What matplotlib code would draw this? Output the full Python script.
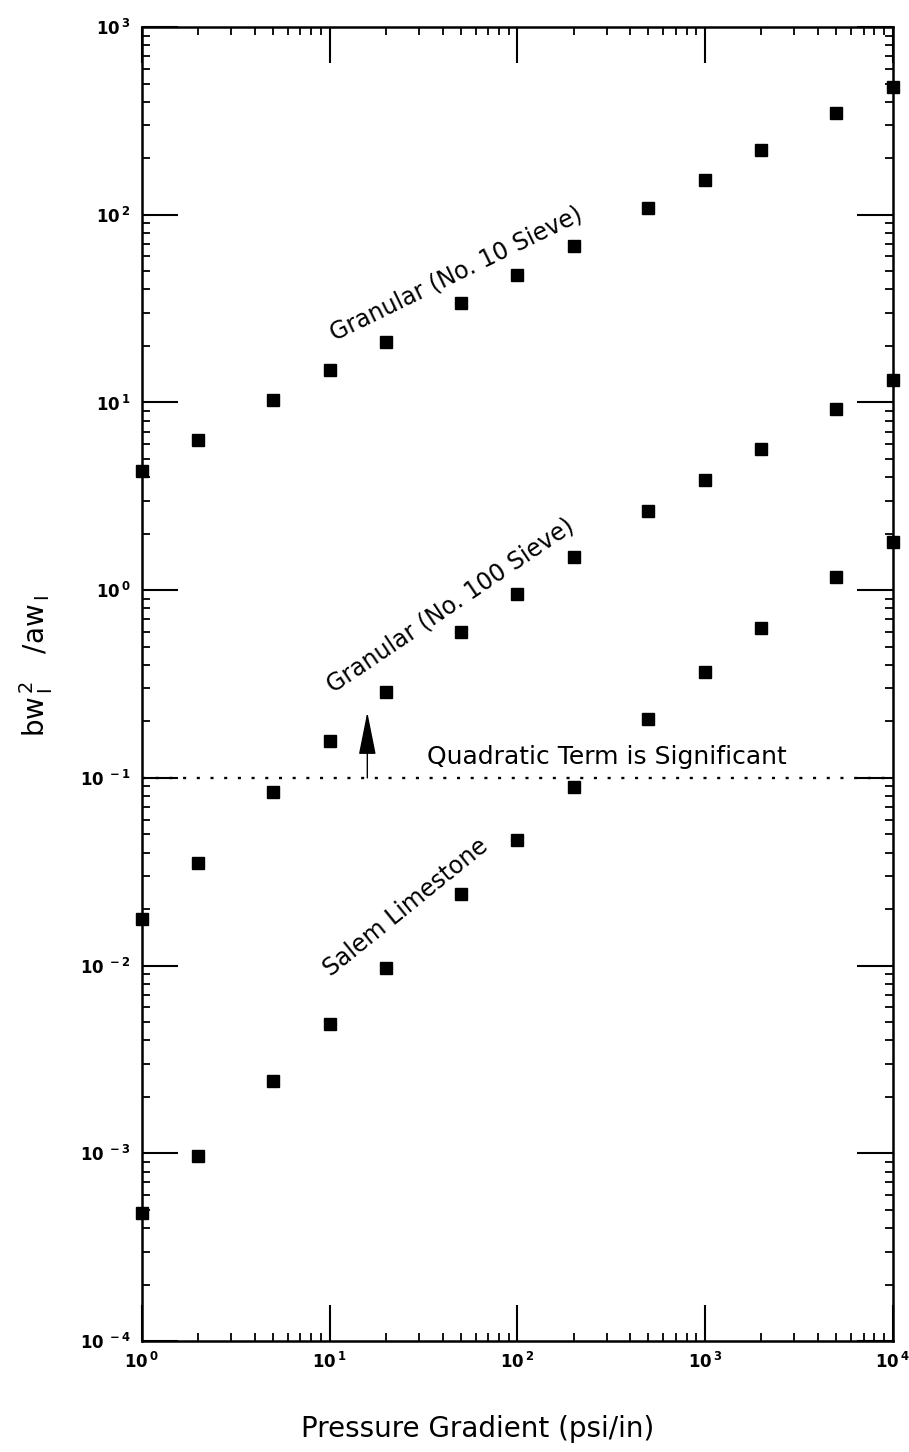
import matplotlib
matplotlib.use("Agg")
import matplotlib.pyplot as plt
from matplotlib.ticker import LogLocator, FixedLocator, NullFormatter

pressure = [1, 2, 5, 10, 20, 50, 100, 200, 500, 1000, 2000, 5000, 10000]
granular10 = [4.3, 6.3, 10.3, 14.9, 21, 34, 48, 68, 108, 154, 220, 347, 478]
granular100_x = [1, 2, 5, 10, 20, 50, 100, 200, 500, 1000, 2000, 5000, 10000]
granular100 = [0.0177, 0.0352, 0.0843, 0.158, 0.288, 0.596, 0.95, 1.5, 2.64, 3.86, 5.65, 9.25, 13.2]
salem = [4.83e-4, 9.7e-4, 2.42e-3, 4.87e-3, 9.7e-3, 0.0241, 0.0468, 0.0897, 0.205, 0.365, 0.627, 1.17, 1.80]

xticks = [1, 10, 100, 1000, 10000]
xtick_labels = [r'$\mathbf{10^{\,0}}$', r'$\mathbf{10^{\,1}}$', r'$\mathbf{10^{\,2}}$',
                r'$\mathbf{10^{\,3}}$', r'$\mathbf{10^{\,4}}$']
yticks = [1e-4, 1e-3, 1e-2, 1e-1, 1, 10, 100, 1000]
ytick_labels = [r'$\mathbf{10^{\ -4}}$', r'$\mathbf{10^{\ -3}}$', r'$\mathbf{10^{\ -2}}$',
                r'$\mathbf{10^{\ -1}}$', r'$\mathbf{10^{\,0}}$', r'$\mathbf{10^{\,1}}$',
                r'$\mathbf{10^{\,2}}$', r'$\mathbf{10^{\,3}}$']

fig = plt.figure(figsize=(9.09, 14.52), dpi=100)
ax = fig.add_axes([0.156, 0.0764, 0.826, 0.905])
ax.set_xscale('log')
ax.set_yscale('log')
ax.set_xlim(1, 1e4)
ax.set_ylim(1e-4, 1e3)

mk = dict(marker='s', linestyle='none', color='black', markersize=8.5, clip_on=False, zorder=5)
ax.plot(pressure, granular10, **mk)
ax.plot(granular100_x, granular100, **mk)
ax.plot(pressure, salem, **mk)

ax.plot([1, 1e4], [0.1, 0.1], linestyle=(0, (1.3, 4.5)), color='black', lw=1.7)

ax.annotate('', xy=(15.9, 0.224), xytext=(15.9, 0.1),
            arrowprops=dict(arrowstyle='-|>,head_width=0.27,head_length=1.35',
                            mutation_scale=20, color='black', lw=1.0,
                            shrinkA=0, shrinkB=0))

tfont = dict(fontsize=17, color='black', family='DejaVu Sans')
ax.text(33, 0.118, 'Quadratic Term is Significant', ha='left', va='baseline',
        fontsize=18, color='black', family='DejaVu Sans')
ax.text(10.6, 21.2, 'Granular (No. 10 Sieve)', rotation=26, rotation_mode='anchor',
        ha='left', va='baseline', **tfont)
ax.text(10.4, 0.283, 'Granular (No. 100 Sieve)', rotation=34, rotation_mode='anchor',
        ha='left', va='baseline', **tfont)
ax.text(10.2, 0.0087, 'Salem Limestone', rotation=39, rotation_mode='anchor',
        ha='left', va='baseline', **tfont)

ax.xaxis.set_major_locator(FixedLocator(xticks))
ax.set_xticklabels(xtick_labels, fontsize=12)
ax.yaxis.set_major_locator(FixedLocator(yticks))
ax.set_yticklabels(ytick_labels, fontsize=12)
ax.xaxis.set_minor_locator(LogLocator(base=10, subs=range(2, 10), numticks=20))
ax.yaxis.set_minor_locator(LogLocator(base=10, subs=range(2, 10), numticks=20))
ax.xaxis.set_minor_formatter(NullFormatter())
ax.yaxis.set_minor_formatter(NullFormatter())

ax.tick_params(which='major', direction='in', length=26, width=1.5, top=True, right=True, pad=8)
ax.tick_params(which='minor', direction='in', length=6, width=1.3, top=True, right=True)
for s in ax.spines.values():
    s.set_linewidth(1.8)

ax.set_xlabel('Pressure Gradient (psi/in)', fontsize=20)
ax.xaxis.set_label_coords(0.447, -0.056)
ax.set_ylabel(r'$\mathsf{bw_{\,I}^{\,2}\ \ \ /aw_{\,I}}$', fontsize=20)
ax.yaxis.set_label_coords(-0.116, 0.514)

fig.savefig('out.png', dpi=100)
